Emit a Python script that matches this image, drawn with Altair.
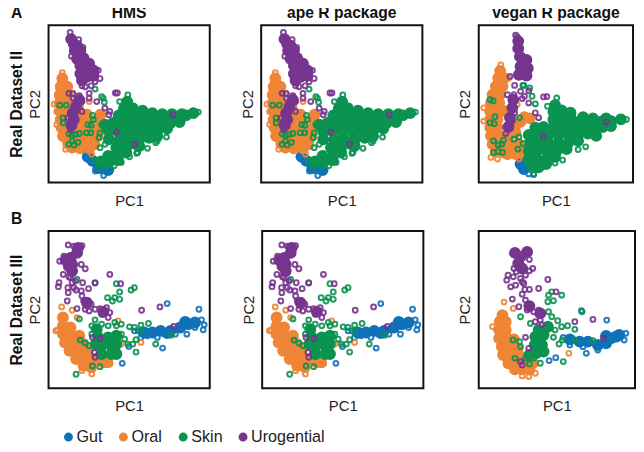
import altair as alt
import pandas as pd

SERIES = ["Gut", "Oral", "Skin", "Urogential"]
COLORS = ["#0f72b8", "#ef8535", "#0b9350", "#76358f"]

# ---- Real Dataset II, HMS / ape (PC1, PC2 in arbitrary picture units)
A_GUT_CORE = [(258,478),(272,490),(290,512),(320,518)]
A_GUT_RING = [(281,521),(306,535),(325,522),(300,520),(250,478)]
A_ORAL_CORE = [(180,240),(175,265),(195,265),(172,290),(190,290),(172,315),(200,315),(228,325),
               (175,340),(200,340),(230,340),(255,350),(175,365),(200,365),(230,365),(260,365),(292,362),
               (178,390),(205,390),(235,390),(265,390),(292,390),(182,415),(210,415),(240,415),(270,415),(288,415),
               (198,438),(225,440),(255,440),(278,440),(210,450),(235,452),(262,452),(296,350)]
A_ORAL_RING = [(155,318),(163,340),(163,380),(190,455),(270,470),(262,310),(215,290),(180,222)]
A_SKIN_CORE = [(378,310),(368,332),(395,330),(425,338),(455,345),(485,348),(515,348),(545,348),(352,352),(380,352),(410,352),(440,355),(470,358),(500,358),
               (530,356),(558,352),(580,345),(335,375),(360,375),(390,375),(420,375),(450,375),(480,375),(510,375),(538,372),
               (322,400),(350,400),(380,400),(410,400),(440,400),(470,398),(500,392),(322,425),(355,425),(385,425),
               (415,425),(445,420),(345,450),(375,450),(405,440),(320,475),(350,475),(375,465),(298,492),(325,492),(350,488),(310,380),(470,415),(415,445)]
A_SKIN_RING = [(172,321),(192,321),(182,360),(183,375),(200,408),(210,412),(220,410),(232,407),(200,440),(210,430),(228,434),
               (215,442),(254,405),(267,405),(258,380),(268,382),(272,352),(275,365),(280,272),(300,295),(308,312),(305,300),
               (385,478),(407,467),(360,495),(470,430),(498,418),(338,505),(300,380),(295,405),(292,420),(310,440),(325,415),
               (325,470),(295,450),(595,342),(355,310),(380,290),(290,510),(315,505),(278,490),(465,435),(440,452),(410,465)]
A_URO_CORE = [(207,120),(215,135),(225,140),(218,155),(235,155),(225,180),(245,178),(262,195),(235,200),(255,210),
              (275,215),(235,225),(255,235),(275,232),(240,245),(232,305),(222,325),(212,345),(215,365),(208,382)]
A_URO_RING = [(204,100),(208,172),(200,285),(213,300),(240,262),(262,285),(262,300),(285,310),(342,284),(348,284),(310,330),
              (322,350),(325,340),(518,350),(345,403),(400,440),(232,292),(240,310),(205,395),(212,285),(280,250),(250,265),
              (268,262),(295,240),(230,122),(243,145),(215,120),(290,215),(197,360),(240,340)]

# ---- Real Dataset II, vegan
C_GUT_CORE = [(240,500),(250,515)]
C_GUT_RING = [(280,532),(265,530),(235,498)]
C_ORAL_CORE = [(178,218),(172,240),(190,240),(165,265),(185,265),(155,290),(178,290),(150,315),(175,315),(148,340),(170,340),(192,340),
               (148,365),(170,365),(148,390),(170,390),(150,415),(175,415),(205,415),(155,440),(180,440),(210,440),(235,440),
               (165,462),(190,465),(220,465),(245,465),(200,470),(225,470),(252,358),(240,372),(268,362),(225,382),(225,405)]
C_ORAL_RING = [(180,200),(128,330),(128,370),(150,480),(205,240),(230,320),(170,485),(235,485)]
C_SKIN_CORE = [(345,322),(340,342),(365,338),(392,345),(430,358),(460,362),(500,362),(340,365),(365,365),(395,365),(425,370),(455,372),(485,372),(515,370),(545,365),
               (285,390),(310,388),(340,388),(370,388),(400,388),(430,388),(460,388),(490,388),(265,412),(295,412),(325,412),
               (355,412),(385,412),(415,412),(445,408),(270,436),(295,436),(325,436),(355,436),(385,436),(415,430),
               (265,460),(290,460),(320,460),(350,460),(380,455),(265,485),(290,485),(320,485),(345,478),(275,505),(295,510),(318,500),(515,385),(470,415)]
C_SKIN_RING = [(147,305),(157,309),(162,357),(147,375),(160,378),(158,430),(188,428),(172,442),(183,440),(158,465),(172,462),(185,465),
               (220,425),(235,418),(248,438),(232,455),(237,360),(247,262),(268,270),(275,295),(285,318),(322,325),(345,497),(368,488),
               (415,456),(438,448),(250,262),(562,365),(280,530),(350,300)]
C_URO_CORE = [(233,128),(233,150),(238,175),(258,185),(240,205),(262,210),(235,230),(258,232),(218,305),(215,330),(208,360),(203,388)]
C_URO_RING = [(208,235),(222,262),(265,278),(252,295),(245,302),(265,315),(320,296),(310,297),(285,345),(295,360),(500,373),(310,417),
              (215,370),(195,408),(210,380),(240,280),(230,115),(225,110),(220,290),(200,290),(222,345)]

# ---- Real Dataset III, HMS / ape
B_GUT_CORE = [(430,390),(455,390),(480,385),(510,385),(540,375),(565,365),(585,360),(555,358),(500,392)]
B_GUT_RING = [(597,320),(500,303),(613,367),(610,382),(605,352),(486,437),(363,483),(383,432),(400,385),(420,405),(440,400),(470,405),
              (525,395),(560,395),(585,375),(412,385)]
B_ORAL_CORE = [(182,345),(182,370),(205,375),(182,395),(205,395),(232,400),(188,420),(215,420),(245,425),(202,445),(228,445),(258,445),
               (222,470),(250,470),(280,470),(245,490),(268,495),(305,480),(318,480)]
B_ORAL_RING = [(178,313),(210,323),(165,382),(270,515),(420,420),(350,355),(360,425),(240,505),(325,485),(225,345),(160,385)]
B_SKIN_CORE = [(285,380),(290,405),(320,405),(345,400),(300,430),(330,430),(345,425),(300,455),(330,455),(345,455),(282,425)]
B_SKIN_RING = [(222,516),(272,491),(295,493),(232,349),(235,413),(250,422),(405,449),(318,285),(340,285),(333,295),(355,290),(355,268),
               (345,243),(390,262),(400,255),(280,240),(280,352),(270,370),(300,365),(320,370),(345,370),(360,365),(385,373),(400,375),
               (420,368),(443,363),(405,412),(380,425),(395,425),(465,425),(512,398),(370,410),(225,230),(420,385),(270,395),(340,360),(360,395),(262,430)]
B_URO_CORE = [(228,135),(225,150),(205,165),(190,172),(210,185),(200,190),(210,205),(255,300),(305,328)]
B_URO_RING = [(198,126),(238,185),(250,198),(183,215),(200,222),(210,240),(170,240),(168,252),(197,255),(215,255),(198,270),(222,262),
              (242,240),(260,258),(238,265),(240,280),(325,215),(280,241),(358,243),(195,295),(225,318),(245,295),(255,300),(268,305),
              (250,320),(262,325),(280,320),(295,318),(315,315),(300,335),(320,345),(310,325),(325,330),(422,323),(478,313),(272,405),
              (296,408),(278,450),(280,465),(520,372),(220,235),(185,160),(172,175),(240,128),(215,130),(205,225),(255,310)]

# ---- Real Dataset III, vegan
D_GUT_CORE = [(385,378),(415,385),(440,385),(470,395),(495,390),(495,368),(525,370),(535,365),(510,375)]
D_GUT_RING = [(497,320),(322,442),(342,433),(435,420),(365,372),(550,380),(555,360),(385,395),(425,400),(470,410),(420,292)]
D_ORAL_CORE = [(180,305),(172,325),(190,325),(170,350),(190,350),(170,375),(195,375),(215,378),(178,400),(200,400),(225,405),
               (182,425),(205,425),(230,425),(198,450),(220,450),(248,450),(272,450),(218,468),(240,468),(262,468)]
D_ORAL_RING = [(185,266),(213,285),(382,420),(150,340),(240,488),(280,480),(260,490)]
D_SKIN_CORE = [(290,350),(280,370),(305,365),(278,395),(300,395),(305,415),(282,420),(262,425),(318,340)]
D_SKIN_RING = [(235,310),(320,245),(330,235),(360,245),(335,262),(318,265),(320,295),(330,310),(348,322),(360,340),(378,337),(340,350),
               (335,372),(352,392),(362,380),(400,348),(422,295),(400,380),(455,382),(365,445),(295,450),(262,452),(218,435),(212,380),
               (232,385),(235,400),(265,330),(250,435),(275,435)]
D_URO_CORE = [(218,118),(255,115),(235,130),(228,150),(240,165),(262,278),(295,300)]
D_URO_RING = [(262,138),(222,175),(197,185),(193,200),(250,185),(262,172),(272,165),(205,220),(220,215),(240,205),(318,198),(290,225),
              (248,228),(262,228),(240,242),(343,235),(210,257),(230,280),(250,260),(255,275),(265,285),(275,295),(290,290),(300,300),
              (295,320),(280,325),(300,335),(255,290),(400,325),(455,318),(487,375),(250,372),(260,405),(235,445),(240,455),(245,210),
              (235,195),(215,165),(213,190)]

A_SET = [(A_GUT_CORE,A_GUT_RING),(A_ORAL_CORE,A_ORAL_RING),(A_SKIN_CORE,A_SKIN_RING),(A_URO_CORE,A_URO_RING)]
B_SET = [(B_GUT_CORE,B_GUT_RING),(B_ORAL_CORE,B_ORAL_RING),(B_SKIN_CORE,B_SKIN_RING),(B_URO_CORE,B_URO_RING)]
C_SET = [(C_GUT_CORE,C_GUT_RING),(C_ORAL_CORE,C_ORAL_RING),(C_SKIN_CORE,C_SKIN_RING),(C_URO_CORE,C_URO_RING)]
D_SET = [(D_GUT_CORE,D_GUT_RING),(D_ORAL_CORE,D_ORAL_RING),(D_SKIN_CORE,D_SKIN_RING),(D_URO_CORE,D_URO_RING)]

FONT = "Liberation Sans"
ONE = pd.DataFrame({"a": [0]})
SCALE = alt.Scale(domain=SERIES, range=COLORS)
LEGEND = alt.Legend(orient="none", legendX=12, legendY=408, direction="horizontal", columns=4, title=None,
                    symbolType="circle", symbolSize=50, symbolStrokeWidth=2, labelFont=FONT, labelFontSize=16.3,
                    labelColor="#222222", columnPadding=12.5, labelOffset=0, symbolOpacity=1)


def frame(points, name):
    return pd.DataFrame({"pc1": [p[0] for p in points], "pc2": [p[1] for p in points], "series": name})


def text(label, x, y, **kw):
    return alt.Chart(ONE).mark_text(text=label, font=FONT, **kw).encode(x=alt.value(x), y=alt.value(y))


def panel(dataset, xdom, ydom, width, title=None, letter=None, row=None):
    x = alt.X("pc1:Q", scale=alt.Scale(domain=xdom, nice=False, zero=False),
              axis=alt.Axis(title="PC1", labels=False, ticks=False, domain=False, grid=False, titleFont=FONT,
                            titleFontSize=15, titleFontWeight="normal", titleColor="#222222", titlePadding=11))
    y = alt.Y("pc2:Q", scale=alt.Scale(domain=ydom, nice=False, zero=False),
              axis=alt.Axis(title="PC2", labels=False, ticks=False, domain=False, grid=False, titleFont=FONT,
                            titleFontSize=15, titleFontWeight="normal", titleColor="#222222", titlePadding=6))
    color = alt.Color("series:N", scale=SCALE, legend=LEGEND)
    fill = alt.Fill("series:N", scale=SCALE, legend=None)
    layers = []
    for name, (core, ring) in zip(SERIES, dataset):
        # dense clouds: solid points; sparse samples: open rings
        layers.append(alt.Chart(frame(core, name)).mark_point(size=100, strokeWidth=2, opacity=1, filled=False).encode(x=x, y=y, color=color, fill=fill))
        layers.append(alt.Chart(frame(ring, name)).mark_point(size=24, strokeWidth=2, opacity=0.9, filled=False).encode(x=x, y=y, color=color))
    if title:
        layers.append(text(title, width / 2, -12, fontSize=15.8, fontWeight="bold", align="center", color="#111111"))
    if letter:
        layers.append(text(letter, -38, -12, fontSize=15.8, fontWeight="bold", align="left", color="#111111"))
    if row:
        layers.append(text(row, -32, 80, fontSize=15.8, fontWeight="bold", angle=270, align="center", color="#111111"))
    return alt.layer(*layers).properties(width=width, height=159)


YA = [556, 78]
YB = [558, 84]
p1 = panel(A_SET, [138, 630], YA, 163, "HMS", "A", "Real Dataset II")
p2 = panel(A_SET, [138, 616], YA, 163, "ape R package")
p3 = panel(C_SET, [113, 582], [556, 80], 156, "vegan R package")
p4 = panel(B_SET, [138, 630], YB, 163, None, "B", "Real Dataset III")
p5 = panel(B_SET, [138, 630], YB, 163)
p6 = panel(D_SET, [108, 583], [525, 52], 158)

row_a = alt.hconcat(alt.hconcat(p1, p2, spacing=29), p3, spacing=34)
row_b = alt.hconcat(alt.hconcat(p4, p5, spacing=29), p6, spacing=32)
chart = alt.vconcat(row_a, row_b, spacing=1).properties(
    padding={"left": 0, "top": -6, "right": 0, "bottom": 0}
).configure_view(stroke="#111111", strokeWidth=2)

chart.save("out.html", embed_options={"renderer": "svg", "actions": False})
